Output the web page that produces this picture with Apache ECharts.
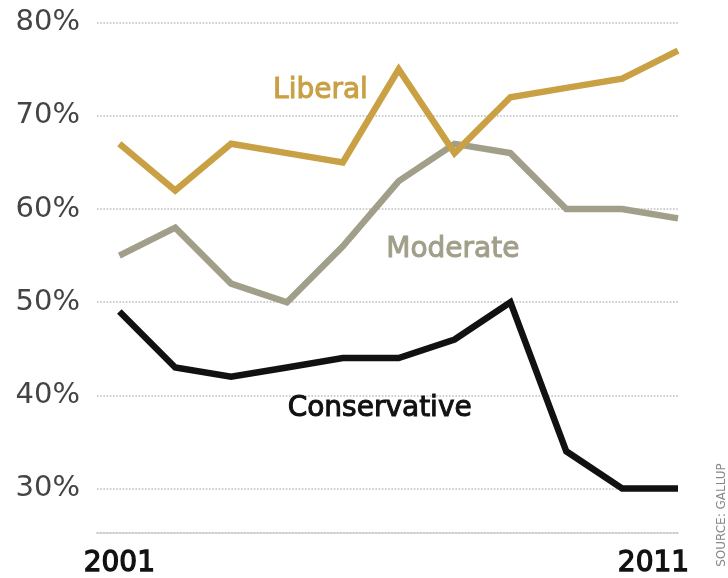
<!DOCTYPE html>
<html>
<head>
<meta charset="utf-8">
<script src="https://cdn.jsdelivr.net/npm/echarts@6/dist/echarts.min.js"></script>
<style>html,body{margin:0;padding:0;background:#fff}#c{width:728px;height:578px}</style>
</head>
<body>
<div id="c"></div>
<script>
var years = [2001,2002,2003,2004,2005,2006,2007,2008,2009,2010,2011];
var liberal = [67,62,67,66,65,75,66,72,73,74,77];
var moderate = [55,58,52,50,56,63,67,66,60,60,59];
var conservative = [49,43,42,43,44,44,46,50,34,30,30];
var yTicks = [30,40,50,60,70,80];
var xLabels = [2001, 2011];
var seriesNames = ['Liberal','Moderate','Conservative'];
var labelPos = [[2004.6,72.65],[2006.97,55.62],[2005.66,38.6]];
var colors = ['#c9a043','#a19f89','#111111'];

function pairs(v){ return years.map(function(y,i){ return [y, v[i]]; }); }
var FONT = 'DejaVu Sans';

var chart = echarts.init(document.getElementById('c'), null, {renderer:'canvas'});
var values = [liberal, moderate, conservative];
var series = values.map(function(v, i){
  return {
    type:'line', name: seriesNames[i], data: pairs(v), symbol:'none', clip:false,
    lineStyle:{color: colors[i], width:6.5, join:'miter', cap:'butt'},
    z: 10 - i,
    markPoint:{
      symbol:'circle', symbolSize:0, silent:true,
      data:[{coord: labelPos[i], value: seriesNames[i]}],
      label:{show:true, position:'inside', formatter: seriesNames[i], fontFamily: FONT, fontSize:28,
        color: colors[i], textBorderColor: colors[i], textBorderWidth:1, align:'center', verticalAlign:'middle'}
    }
  };
});

chart.setOption({
  animation:false,
  grid:{left:97, right:50, top:22.7, bottom:88.7},
  xAxis:{
    type:'value', min:2000.6, max:2011, offset:43.8,
    axisLine:{show:true, lineStyle:{color:'#bdbdbd', width:1.6, type:[1.6,1.6]}},
    axisTick:{show:false},
    splitLine:{show:false},
    axisLabel:{
      customValues: xLabels, margin:17, fontFamily:FONT, fontSize:28, color:'#111',
      formatter:function(v){ return v === 2011 ? '{r|' + v + '}' : '{l|' + v + '}'; },
      rich:{
        l:{fontFamily:FONT, fontSize:28, color:'#111', textBorderColor:'#111', textBorderWidth:1.3},
        r:{fontFamily:FONT, fontSize:28, color:'#111', textBorderColor:'#111', textBorderWidth:1.3, padding:[0,49,0,0]}
      }
    }
  },
  yAxis:{
    type:'value', min:30, max:80, interval:10,
    axisLine:{show:false}, axisTick:{show:false},
    splitLine:{show:true, lineStyle:{color:'#bdbdbd', width:1.6, type:[1.6,1.6]}},
    axisLabel:{margin:17, fontFamily:FONT, fontSize:29, color:'#444', formatter:'{value}%'}
  },
  graphic:[{
    type:'text', x:722, y:515, rotation:Math.PI/2,
    style:{text:'SOURCE: GALLUP', fontFamily:FONT, fontSize:12, fill:'#888', align:'center', verticalAlign:'middle'}
  }],
  series: series
});
</script>
</body>
</html>
